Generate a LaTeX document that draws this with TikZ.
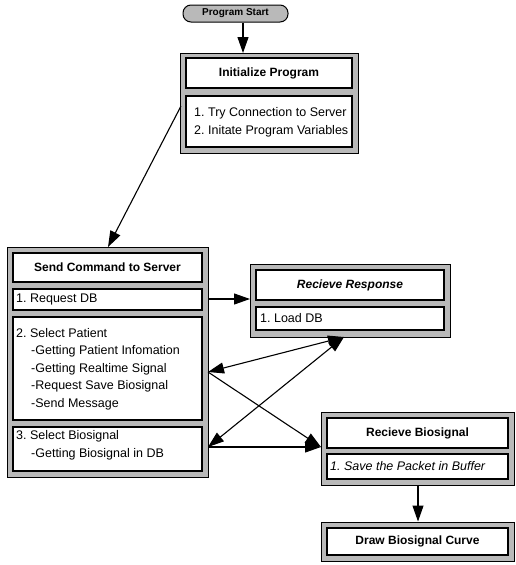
\documentclass[tikz,border=0pt]{standalone}
\usepackage{fontspec}
\setmainfont{Liberation Sans}
\usetikzlibrary{arrows.meta,fit}
\frenchspacing

\tikzset{
  frame/.style={draw=black, line width=1pt, fill=gray!55, inner sep=0pt},
  cell/.style={draw=black, line width=1.2pt, fill=white, inner sep=0pt},
  title/.style={font=\bfseries\fontsize{12}{13}\selectfont, inner sep=0pt},
  item/.style={font=\fontsize{12.5}{17.6}\selectfont, inner sep=0pt, anchor=west, align=left},
  flow/.style={line width=1.1pt, -{Triangle[length=16pt,width=11pt]}},
  bothway/.style={line width=1.1pt, {Triangle[length=16pt,width=11pt]}-{Triangle[length=16pt,width=11pt]}},
}

\begin{document}
\begin{tikzpicture}[x=1pt, y=-1pt]
\useasboundingbox (0,0) rectangle (516,565);

% start terminal
\node[frame, rounded corners=8pt, minimum width=105pt, minimum height=17pt,
      font=\bfseries\fontsize{10}{11}\selectfont] (start) at (235.5,13.5) {Program Start};

% initialization block
\node[frame, fit={(180,53) (358,153)}] (init) {};
\node[cell, fit={(186,58) (352,88)}] (initT) {};
\node[title] (initTt) at (initT.center) {Initialize Program};
\node[cell, fit={(186,96) (352,147)}] (initB) {};
\node[item] (initBt) at (194,122) {1. Try Connection to Server\\2. Initate Program Variables};

% command block
\node[frame, fit={(7,247) (208,477)}] (send) {};
\node[cell, fit={(13,253) (202,282)}] (sendT) {};
\node[title] (sendTt) at (sendT.center) {Send Command to Server};
\node[cell, fit={(13,289) (202,310)}] (s1) {};
\node[item] (s1t) at (16,299.5) {1. Request DB};
\node[cell, fit={(13,317) (202,420)}] (s2) {};
\node[item] (s2t) at (16,369) {2. Select Patient\\
  \hspace*{15pt}-Getting Patient Infomation\\
  \hspace*{15pt}-Getting Realtime Signal\\
  \hspace*{15pt}-Request Save Biosignal\\
  \hspace*{15pt}-Send Message};
\node[cell, fit={(13,427) (202,471)}] (s3) {};
\node[item] (s3t) at (16,445) {3. Select Biosignal\\
  \hspace*{15pt}-Getting Biosignal in DB};

% response block
\node[frame, fit={(250,264) (450,337)}] (resp) {};
\node[cell, fit={(256,270) (444,300)}] (respT) {};
\node[title, font=\bfseries\itshape\fontsize{12}{13}\selectfont] (respTt) at (respT.center) {Recieve Response};
\node[cell, fit={(256,307) (444,330)}] (respB) {};
\node[item] (respBt) at (260,318.5) {1. Load DB};

% biosignal block
\node[frame, fit={(321,412) (514,485)}] (bio) {};
\node[cell, fit={(327,418) (508,448)}] (bioT) {};
\node[title] (bioTt) at (bioT.center) {Recieve Biosignal};
\node[cell, fit={(327,454) (508,479)}] (bioB) {};
\node[item, font=\itshape\fontsize{12.5}{13}\selectfont] (bioBt) at (330,466.5) {1. Save the Packet in Buffer};

% drawing block
\node[frame, fit={(321,522) (514,561)}] (draw) {};
\node[cell, fit={(327,528) (508,555)}] (drawT) {};
\node[title] (drawTt) at (drawT.center) {Draw Biosignal Curve};

% anchor points on the block borders
\coordinate (initL) at (181,106);
\coordinate (sendTop) at (108,247);
\coordinate (s1R) at (208,299);
\coordinate (respL) at (250,299);
\coordinate (s2R) at (208,372);
\coordinate (s3R) at (208,447);
\coordinate (respBot) at (344,337);
\coordinate (bioL) at (321,447);

% connectors
\draw[flow] (start.south -| 243,0) -- (243,53);
\draw[flow] (initL) -- (sendTop);
\draw[flow] (s1R) -- (respL);
\draw[bothway] (s2R) -- (respBot);
\draw[bothway] (s3R) -- (respBot);
\draw[flow] (s2R) -- (bioL);
\draw[flow] (s3R) -- (bioL);
\draw[flow] (bio.south -| 418,0) -- (draw.north -| 418,0);
\end{tikzpicture}
\end{document}
